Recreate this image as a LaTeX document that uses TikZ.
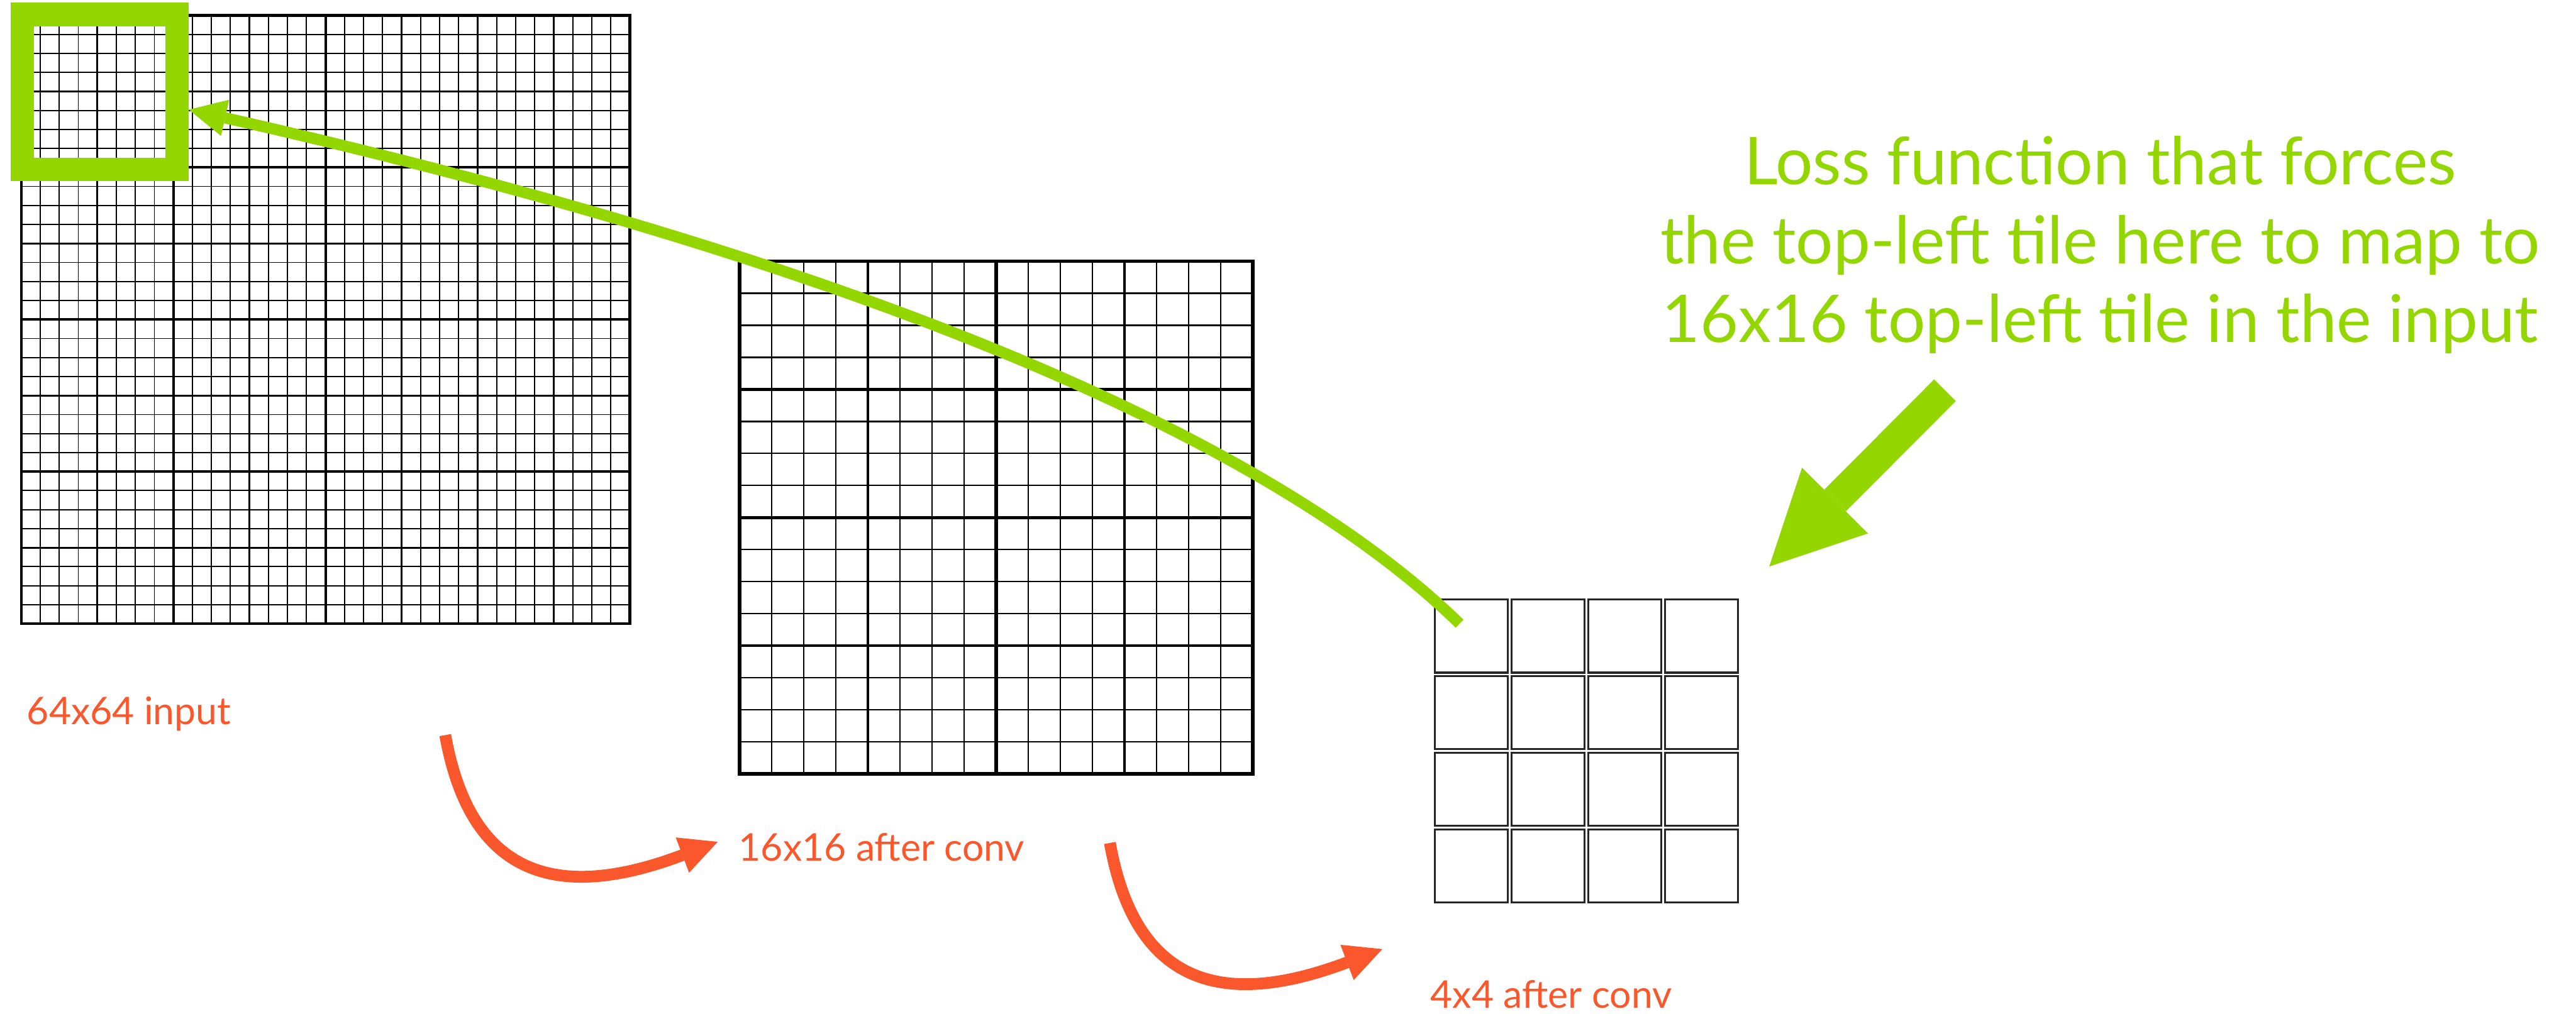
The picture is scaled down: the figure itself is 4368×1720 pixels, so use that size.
\documentclass[tikz,border=0pt]{standalone}
\usepackage{fontspec}
\setmainfont{Lato}
\usetikzlibrary{arrows.meta}

\definecolor{lossgreen}{RGB}{148,214,0}
\definecolor{convorange}{RGB}{250,87,45}

\begin{document}
\begin{tikzpicture}[
    x=0.1mm, y=-0.1mm,
    gridbox/.style={rectangle, draw=none, inner sep=0pt, outer sep=0pt},
    gridline/.style={line width=#1, black},
    cellbox/.style={line width=0.95pt, draw=black!85},
    tilebox/.style={rectangle, draw=lossgreen, line width=4mm, minimum size=26.25mm, inner sep=0pt},
    lossline/.style={lossgreen, line width=1.9mm, -{Triangle[length=6.3mm, width=6.3mm, line width=0pt]}},
    pointer/.style={lossgreen, line width=5.2mm, -{Triangle[length=15.8mm, width=15.8mm, line width=0pt]}},
    convarrow/.style={convorange, line width=2mm, -{Triangle[length=6.4mm, width=6.4mm, line width=0pt]}},
    losstext/.style={text=lossgreen, align=center, inner sep=0pt, font=\fontsize{31.8pt}{38.1pt}\selectfont},
    convlabel/.style={text=convorange, inner sep=0pt, font=\fontsize{18.4pt}{22pt}\selectfont}
]
\useasboundingbox (0,0) rectangle (4368,1720);

% the three feature maps
\node[gridbox, minimum size=103.2mm] (in64) at (552,542) {};
\node[gridbox, minimum size=87mm] (conv16) at (1689,878) {};
\node[gridbox, minimum size=51.6mm] (conv4) at (2690,1274) {};

% 64x64 input
\begin{scope}[shift={(in64.north west)}]
  \foreach \i in {1,...,31} {
    \draw[gridline=0.57pt] (\i*32.25,0) -- (\i*32.25,1032);
    \draw[gridline=0.57pt] (0,\i*32.25) -- (1032,\i*32.25);
  }
  \foreach \i in {4,12,20,28} {
    \draw[gridline=0.85pt] (\i*32.25,0) -- (\i*32.25,1032);
    \draw[gridline=0.85pt] (0,\i*32.25) -- (1032,\i*32.25);
  }
  \foreach \i in {8,16,24} {
    \draw[gridline=1.15pt] (\i*32.25,0) -- (\i*32.25,1032);
    \draw[gridline=1.15pt] (0,\i*32.25) -- (1032,\i*32.25);
  }
  \draw[gridline=1.3pt] (0,0) rectangle (1032,1032);
\end{scope}

% 16x16 after conv
\begin{scope}[shift={(conv16.north west)}]
  \foreach \i in {1,...,15} {
    \draw[gridline=0.7pt] (\i*54.375,0) -- (\i*54.375,870);
    \draw[gridline=0.7pt] (0,\i*54.375) -- (870,\i*54.375);
  }
  \foreach \i in {4,12} {
    \draw[gridline=1.3pt] (\i*54.375,0) -- (\i*54.375,870);
    \draw[gridline=1.3pt] (0,\i*54.375) -- (870,\i*54.375);
  }
  \draw[gridline=1.7pt] (435,0) -- (435,870);
  \draw[gridline=1.7pt] (0,435) -- (870,435);
  \draw[gridline=1.7pt] (0,0) rectangle (870,870);
\end{scope}

% 4x4 after conv
\begin{scope}[shift={(conv4.north west)}]
  \foreach \r in {0,...,3}
    \foreach \c in {0,...,3}
      \draw[cellbox] (\c*130+1,\r*130+1) rectangle ++(124,124);
\end{scope}

% labels
\node[convlabel, anchor=base west] (in64lbl) at (45,1229) {64x64 input};
\node[convlabel, anchor=base west] (conv16lbl) at (1252,1460) {16x16 after conv};
\node[convlabel, anchor=base west] (conv4lbl) at (2425,1710) {4x4 after conv};
\node[losstext, anchor=base] (loss) at (3561,581) {Loss function that forces\\the top-left tile here to map to\\16x16 top-left tile in the input};

% conv arrows
\coordinate (c1from) at (755,1247);
\coordinate (c1to) at (1217,1428);
\coordinate (c2from) at (1882,1430);
\coordinate (c2to) at (2344,1610);
\draw[convarrow] (c1from) .. controls +(45,253) and +(-257,97) .. (c1to);
\draw[convarrow] (c2from) .. controls +(45,253) and +(-257,97) .. (c2to);

% top-left tile and the loss
\node[tilebox] (tile) at (169,156) {};
\coordinate (tilefrom) at (2475,1058);
\draw[lossline] (tilefrom) .. controls +(-337,-328) and +(1099,249) .. ([yshift=-3mm]tile.east);

\coordinate (pointfrom) at (3298,662);
\coordinate (pointto) at (3000,961);
\draw[pointer] (pointfrom) -- (pointto);
\end{tikzpicture}
\end{document}
